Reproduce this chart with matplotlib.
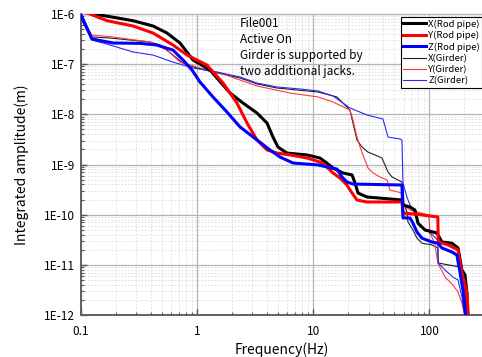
import matplotlib
matplotlib.use("Agg")
import matplotlib.pyplot as plt
from matplotlib.ticker import LogLocator, FixedLocator, FixedFormatter, NullFormatter
from matplotlib.lines import Line2D

plt.rcParams['font.family'] = ['Noto Sans CJK JP', 'DejaVu Sans']

# ---- data (frequency Hz, integrated amplitude m) ----
x_rod_f = [0.1, 0.12, 0.179, 0.282, 0.419, 0.553, 0.716, 0.926, 1.296, 1.93, 2.49, 3.29, 4.01,
           4.51, 4.98, 5.95, 8.85, 11.4, 13.1, 14.8, 18.0, 21.6, 22.9, 24.3, 29.0, 58.0, 59.2,
           68.0, 75.0, 79.6, 91.5, 116, 128, 156, 176, 190, 202, 210, 214]
x_rod_a = [1.2e-6, 1.03e-6, 8.84e-7, 7.35e-7, 5.77e-7, 4.18e-7, 2.64e-7, 1.21e-7, 7.65e-8, 2.66e-8,
           1.68e-8, 1.06e-8, 6.7e-9, 3.53e-9, 2.23e-9, 1.69e-9, 1.55e-9, 1.35e-9, 1.07e-9, 8.5e-10,
           6.78e-10, 6.18e-10, 4.28e-10, 2.7e-10, 2.25e-10, 1.96e-10, 1.56e-10, 1.42e-10, 1.24e-10,
           6.8e-11, 4.95e-11, 4.3e-11, 2.85e-11, 2.7e-11, 2.17e-11, 7.9e-12, 6.28e-12, 2.75e-12, 9e-13]

y_rod_f = [0.1, 0.12, 0.169, 0.282, 0.419, 0.623, 0.822, 1.22, 1.68, 2.21, 2.70, 3.29, 4.01, 4.88,
           6.32, 8.85, 11.4, 12.6, 14.8, 17.0, 19.5, 21.6, 23.8, 29.0, 58.0, 59.2, 75.0, 118, 119,
           144, 176, 183, 194, 210, 216]
y_rod_a = [1.15e-6, 1.0e-6, 7.35e-7, 5.77e-7, 4.18e-7, 2.41e-7, 1.52e-7, 9.6e-8, 4.21e-8, 1.68e-8,
           6.7e-9, 3.08e-9, 1.95e-9, 1.69e-9, 1.55e-9, 1.35e-9, 1.12e-9, 9.8e-10, 6.78e-10, 5.38e-10,
           3.9e-10, 2.7e-10, 1.96e-10, 1.79e-10, 1.79e-10, 1.08e-10, 1.03e-10, 9.0e-11, 2.85e-11,
           2.5e-11, 1.98e-11, 1.09e-11, 5.7e-12, 2.75e-12, 9e-13]

z_rod_f = [0.1, 0.125, 0.19, 0.324, 0.45, 0.623, 0.76, 0.908, 1.063, 1.375, 1.815, 2.35, 3.29, 4.25,
           5.18, 6.71, 11.0, 16.0, 17.7, 19.5, 22.0, 58.0, 59.2, 68.0, 72.1, 78.1, 86.2, 105, 118,
           128, 156, 172, 183, 194, 206]
z_rod_a = [1.0e-6, 3.18e-7, 2.64e-7, 2.6e-7, 2.41e-7, 1.91e-7, 1.21e-7, 7.65e-8, 4.41e-8, 2.22e-8,
           1.11e-8, 5.6e-9, 3.08e-9, 1.95e-9, 1.41e-9, 1.07e-9, 9.8e-10, 8.1e-10, 5.64e-10, 4.48e-10,
           4.08e-10, 3.9e-10, 8.6e-11, 8.6e-11, 6.8e-11, 4.5e-11, 3.4e-11, 2.85e-11, 2.7e-11, 2.17e-11,
           1.8e-11, 1.57e-11, 7.2e-12, 3.15e-12, 9e-13]

x_gir_f = [0.1, 0.125, 0.179, 0.395, 0.482, 0.623, 0.76, 1.0, 1.375, 2.35, 3.29, 4.88, 7.26, 11.0,
           16.0, 17.0, 18.0, 20.7, 22.0, 23.8, 26.3, 29.6, 34.0, 39.0, 41.4, 44.0, 47.6, 58.0, 59.2,
           60.3, 64.0, 65.3, 72.1, 78.1, 86.2, 105, 118, 119, 144, 183, 194, 202, 206]
x_gir_a = [1.05e-6, 3.48e-7, 3.32e-7, 2.77e-7, 2.41e-7, 1.52e-7, 1.05e-7, 8.4e-8, 6.98e-8, 5.3e-8,
           4.03e-8, 3.35e-8, 3.06e-8, 2.79e-8, 2.22e-8, 1.93e-8, 1.68e-8, 1.22e-8, 6.7e-9, 3.08e-9,
           2.23e-9, 1.77e-9, 1.55e-9, 1.35e-9, 9.8e-10, 7.1e-10, 5.64e-10, 4.48e-10, 3.56e-10,
           1.71e-10, 1.13e-10, 7.15e-11, 4.95e-11, 3.4e-11, 2.7e-11, 2.5e-11, 2.17e-11, 1.09e-11,
           1.0e-11, 9.05e-12, 5.7e-12, 2.6e-12, 9e-13]

y_gir_f = [0.1, 0.125, 0.19, 0.395, 0.553, 0.716, 1.063, 1.58, 2.35, 3.29, 6.32, 11.0, 14.8, 20.7,
           22.0, 23.8, 25.3, 26.8, 29.6, 32.7, 37.5, 43.1, 45.7, 58.0, 59.2, 68.0, 97.1, 99, 101, 111,
           118, 136, 159, 176, 190, 202]
y_gir_a = [9.55e-7, 3.81e-7, 3.48e-7, 2.77e-7, 1.91e-7, 1.10e-7, 8.4e-8, 6.67e-8, 4.83e-8, 3.67e-8,
           2.66e-8, 2.22e-8, 1.76e-8, 1.22e-8, 7.7e-9, 3.53e-9, 2.23e-9, 1.55e-9, 8.5e-10, 6.78e-10,
           5.64e-10, 4.91e-10, 3.1e-10, 2.7e-10, 1.56e-10, 1.24e-10, 9.9e-11, 9.0e-11, 4.3e-11,
           2.7e-11, 1.09e-11, 5.7e-12, 3.96e-12, 2.88e-12, 1.73e-12, 9e-13]

z_gir_f = [0.1, 0.125, 0.179, 0.282, 0.419, 0.623, 0.926, 1.49, 2.35, 3.29, 4.88, 7.7, 11.0, 14.8,
           20.7, 29.0, 39.8, 41.4, 44.0, 55.8, 58.0, 59.2, 64.0, 68.0, 75.0, 82.8, 95.2, 107, 118,
           119, 136, 159, 176, 190, 202]
z_gir_a = [8.3e-7, 3.03e-7, 2.41e-7, 1.75e-7, 1.52e-7, 1.10e-7, 8.4e-8, 6.98e-8, 5.55e-8, 4.21e-8,
           3.51e-8, 3.2e-8, 2.92e-8, 2.32e-8, 1.34e-8, 9.7e-9, 8.07e-9, 5.86e-9, 3.53e-9, 3.22e-9,
           3.08e-9, 4.28e-10, 2.25e-10, 1.56e-10, 1.08e-10, 5.7e-11, 4.95e-11, 3.9e-11, 3.1e-11,
           1.09e-11, 7.9e-12, 5.7e-12, 5.0e-12, 2.29e-12, 9e-13]

x_ticks = [0.1, 1, 10, 100]
x_tick_labels = ["0.1", "1", "10", "100"]
y_ticks = [1e-12, 1e-11, 1e-10, 1e-9, 1e-8, 1e-7, 1e-6]
y_tick_labels = ["1E-12", "1E-11", "1E-10", "1E-9", "1E-8", "1E-7", "1E-6"]
legend_labels = ['X(Rod pipe)', 'Y(Rod pipe)', 'Z(Rod pipe)', 'X(Girder)', 'Y(Girder)', 'Z(Girder)']
note = "File001\nActive On\nGirder is supported by\ntwo additional jacks."

# ---- figure ----
fig = plt.figure(figsize=(4.82, 3.57), dpi=100)
W, H = 482, 357
ax = fig.add_axes([80.6 / W, (H - 315) / H, 1 - 80.6 / W, (315 - 14) / H])
ax.set_xscale('log')
ax.set_yscale('log')
ax.set_xlim(0.1, 283)
ax.set_ylim(1e-12, 1e-6)

ax.grid(True, which='major', color='#b4b4b4', linewidth=0.9, linestyle='-')
ax.grid(True, which='minor', color='#dadada', linewidth=0.6, linestyle=(0, (2, 2)))
ax.set_axisbelow(True)

thin_colors = ['#202020', '#ff3838', '#2828ff']
thick_colors = ['black', '#ff0000', '#0000ff']

# thin (girder) lines first
ax.plot(x_gir_f, x_gir_a, color=thin_colors[0], lw=0.8, zorder=3)
ax.plot(y_gir_f, y_gir_a, color=thin_colors[1], lw=0.8, zorder=3)
ax.plot(z_gir_f, z_gir_a, color=thin_colors[2], lw=0.8, zorder=3)
# thick (rod pipe) lines
ax.plot(x_rod_f, x_rod_a, color=thick_colors[0], lw=2.2, zorder=4)
ax.plot(y_rod_f, y_rod_a, color=thick_colors[1], lw=2.2, zorder=4)
ax.plot(z_rod_f, z_rod_a, color=thick_colors[2], lw=2.2, zorder=4)

ax.xaxis.set_major_locator(FixedLocator(x_ticks))
ax.xaxis.set_major_formatter(FixedFormatter(x_tick_labels))
ax.xaxis.set_minor_locator(LogLocator(base=10, subs=range(2, 10), numticks=20))
ax.xaxis.set_minor_formatter(NullFormatter())
ax.yaxis.set_major_locator(FixedLocator(y_ticks))
ax.yaxis.set_major_formatter(FixedFormatter(y_tick_labels))
ax.yaxis.set_minor_locator(LogLocator(base=10, subs=range(2, 10), numticks=20))
ax.yaxis.set_minor_formatter(NullFormatter())

ax.tick_params(which='both', direction='in', color='#555555', labelsize=8.5, pad=4)
ax.tick_params(which='major', length=4, width=1)
ax.tick_params(which='minor', length=2.5, width=0.8)
ax.tick_params(axis='x', pad=7)

for s in ['left', 'bottom']:
    ax.spines[s].set_color('#606060')
    ax.spines[s].set_linewidth(1.4)
ax.spines['top'].set_color('#b4b4b4')
ax.spines['top'].set_linewidth(0.9)
ax.spines['right'].set_visible(False)

ax.set_xlabel('Frequency(Hz)', fontsize=10, labelpad=3)
ax.set_ylabel('Integrated amplitude(m)', fontsize=10, labelpad=11)

fig.text(240 / W, 1 - 17 / H, note, fontsize=8.5, va='top', ha='left', linespacing=1.3)

handles = [Line2D([], [], color=c, lw=2.2) for c in thick_colors] + \
          [Line2D([], [], color=c, lw=0.8) for c in thin_colors]
leg = fig.legend(handles, legend_labels, loc='upper left', bbox_to_anchor=(401 / W, 1 - 17 / H),
                 bbox_transform=fig.transFigure, fontsize=6.9, frameon=True, fancybox=False,
                 edgecolor='black', framealpha=1, borderpad=0.25, labelspacing=0.22,
                 handlelength=2.4, handletextpad=0.2, borderaxespad=0)
leg.get_frame().set_linewidth(0.8)

fig.savefig('out.png', dpi=100)
